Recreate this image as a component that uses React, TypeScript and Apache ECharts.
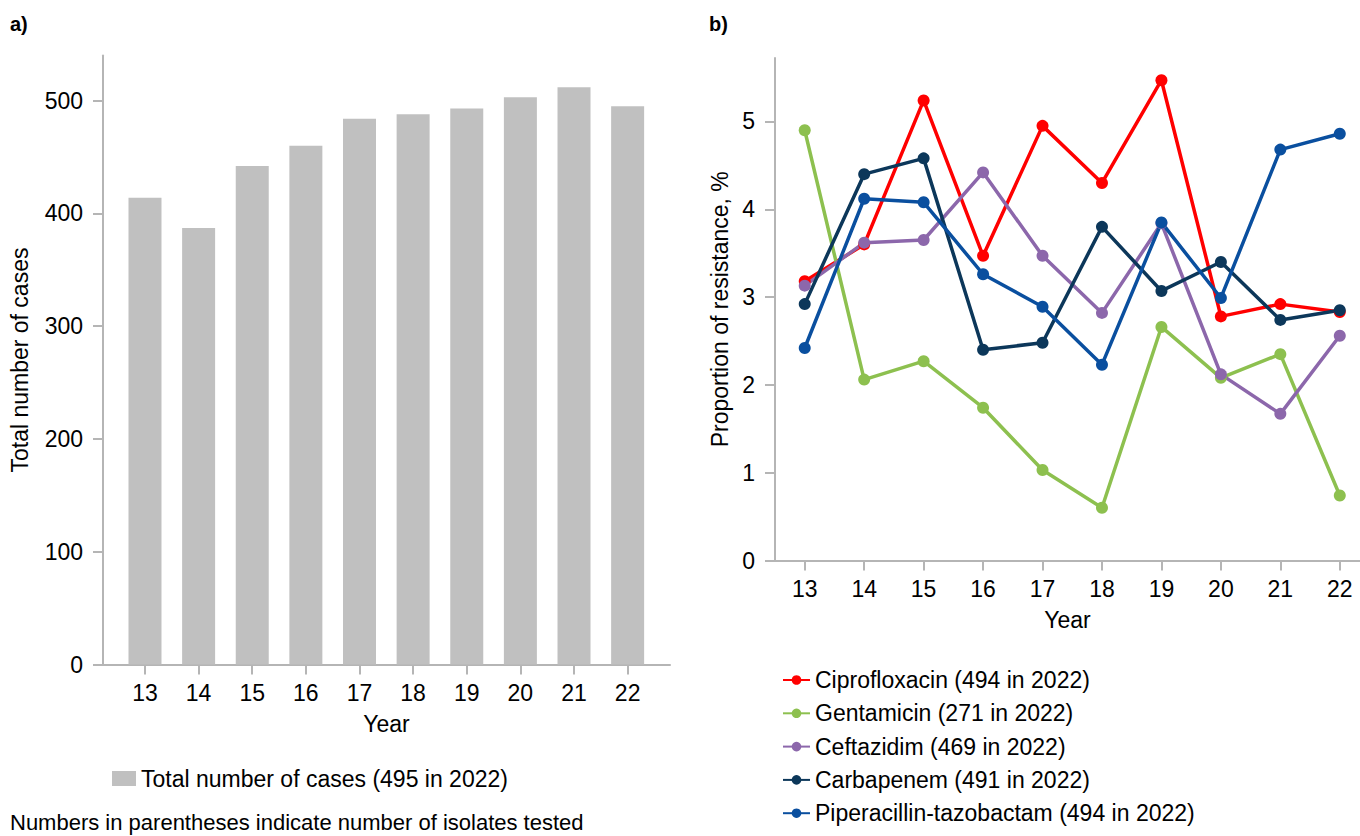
import React, { useEffect, useRef } from "react";
import * as echarts from "echarts";

const years = [13, 14, 15, 16, 17, 18, 19, 20, 21, 22];
const totalCases = [414, 387, 442, 460, 484, 488, 493, 503, 512, 495];
const ciprofloxacin = [3.18, 3.6, 5.24, 3.47, 4.95, 4.3, 5.47, 2.78, 2.92, 2.83];
const gentamicin = [4.9, 2.06, 2.27, 1.74, 1.03, 0.6, 2.66, 2.08, 2.35, 0.74];
const ceftazidim = [3.13, 3.62, 3.65, 4.42, 3.47, 2.82, 3.84, 2.12, 1.67, 2.56];
const carbapenem = [2.92, 4.4, 4.58, 2.4, 2.48, 3.8, 3.07, 3.4, 2.74, 2.85];
const piperacillin = [2.42, 4.12, 4.08, 3.26, 2.89, 2.23, 3.85, 2.99, 4.68, 4.86];
const casesTicks = [0, 100, 200, 300, 400, 500];
const resistTicks = [0, 1, 2, 3, 4, 5];

const lineSeriesDefs = [
  { name: "Ciprofloxacin (494 in 2022)", data: ciprofloxacin, color: "#ff0000" },
  { name: "Gentamicin (271 in 2022)", data: gentamicin, color: "#8dc04f" },
  { name: "Ceftazidim (469 in 2022)", data: ceftazidim, color: "#8c67ab" },
  { name: "Carbapenem (491 in 2022)", data: carbapenem, color: "#0c375a" },
  { name: "Piperacillin-tazobactam (494 in 2022)", data: piperacillin, color: "#0a4f9f" },
];
const barName = "Total number of cases (495 in 2022)";

const FONT = "'Liberation Sans', Arial, Helvetica, sans-serif";
const AXIS_COLOR = "#b5b5b5";

export default function App() {
  const ref = useRef<HTMLDivElement>(null);
  useEffect(() => {
    if (!ref.current) return;
    const chart = echarts.init(ref.current, null, { renderer: "svg" });
    const axisLine = { show: true, lineStyle: { color: AXIS_COLOR, width: 2 } };
    const axisTickX = (vals: number[]) => ({
      show: true,
      length: 10,
      lineStyle: { color: AXIS_COLOR, width: 2 },
      customValues: vals,
    });
    const labelStyle = { color: "#000", fontSize: 23, fontFamily: FONT };
    const option: any = {
      animation: false,
      backgroundColor: "#ffffff",
      textStyle: { fontFamily: FONT },
      graphic: [
        { type: "text", left: 10, top: 14, style: { text: "a)", font: `bold 20px ${FONT}`, fill: "#000" } },
        { type: "text", left: 709, top: 14, style: { text: "b)", font: `bold 20px ${FONT}`, fill: "#000" } },
        {
          type: "text",
          left: 10,
          top: 811,
          style: { text: "Numbers in parentheses indicate number of isolates tested", font: `22px ${FONT}`, fill: "#000" },
        },
      ],
      grid: [
        { left: 103, top: 55.6, width: 567, height: 608.9, containLabel: false },
        { left: 775, top: 58, width: 585, height: 502.5, containLabel: false },
      ],
      xAxis: [
        {
          type: "value",
          gridIndex: 0,
          min: 12.217,
          max: 22.79,
          splitLine: { show: false },
          axisLine,
          axisTick: axisTickX(years),
          axisLabel: { ...labelStyle, margin: 17, customValues: years },
          name: "Year",
          nameLocation: "middle",
          nameGap: 48,
          nameTextStyle: { ...labelStyle },
        },
        {
          type: "value",
          gridIndex: 1,
          min: 12.5,
          max: 22.34,
          splitLine: { show: false },
          axisLine,
          axisTick: axisTickX(years),
          axisLabel: { ...labelStyle, margin: 17, customValues: years },
          name: "Year",
          nameLocation: "middle",
          nameGap: 48,
          nameTextStyle: { ...labelStyle },
        },
      ],
      yAxis: [
        {
          type: "value",
          gridIndex: 0,
          min: 0,
          max: 540,
          splitLine: { show: false },
          axisLine,
          axisTick: axisTickX(casesTicks),
          axisLabel: { ...labelStyle, margin: 20, customValues: casesTicks },
          name: "Total number of cases",
          nameLocation: "middle",
          nameGap: 72,
          nameTextStyle: { ...labelStyle },
        },
        {
          type: "value",
          gridIndex: 1,
          min: 0,
          max: 5.723,
          splitLine: { show: false },
          axisLine,
          axisTick: axisTickX(resistTicks),
          axisLabel: { ...labelStyle, margin: 20, customValues: resistTicks },
          name: "Proportion of resistance, %",
          nameLocation: "middle",
          nameGap: 44,
          nameTextStyle: { ...labelStyle },
        },
      ],
      legend: [
        {
          data: [barName],
          left: 112,
          top: 767,
          padding: 0,
          itemWidth: 24,
          itemHeight: 15,
          icon: "rect",
          textStyle: { ...labelStyle, lineHeight: 23 },
        },
        {
          data: lineSeriesDefs.map((s) => s.name),
          orient: "vertical",
          left: 782,
          top: 668.5,
          padding: 0,
          itemWidth: 27,
          itemHeight: 12,
          itemGap: 10.3,
          textStyle: { ...labelStyle, lineHeight: 23 },
        },
      ],
      series: [
        {
          type: "bar",
          name: barName,
          xAxisIndex: 0,
          yAxisIndex: 0,
          barWidth: 33,
          itemStyle: { color: "#c0c0c0" },
          data: years.map((y, i) => [y, totalCases[i]]),
        },
        ...lineSeriesDefs.map((s) => ({
          type: "line",
          name: s.name,
          xAxisIndex: 1,
          yAxisIndex: 1,
          symbol: "circle",
          symbolSize: 12,
          lineStyle: { color: s.color, width: 3.5 },
          itemStyle: { color: s.color },
          data: years.map((y, i) => [y, s.data[i]]),
        })),
      ],
    };
    chart.setOption(option);
    return () => chart.dispose();
  }, []);
  return (
    <div
      style={{ position: "fixed", left: 0, top: 0, width: 1360, height: 836, background: "#fff" }}
    >
      <div ref={ref} style={{ width: 1360, height: 836 }} />
    </div>
  );
}
